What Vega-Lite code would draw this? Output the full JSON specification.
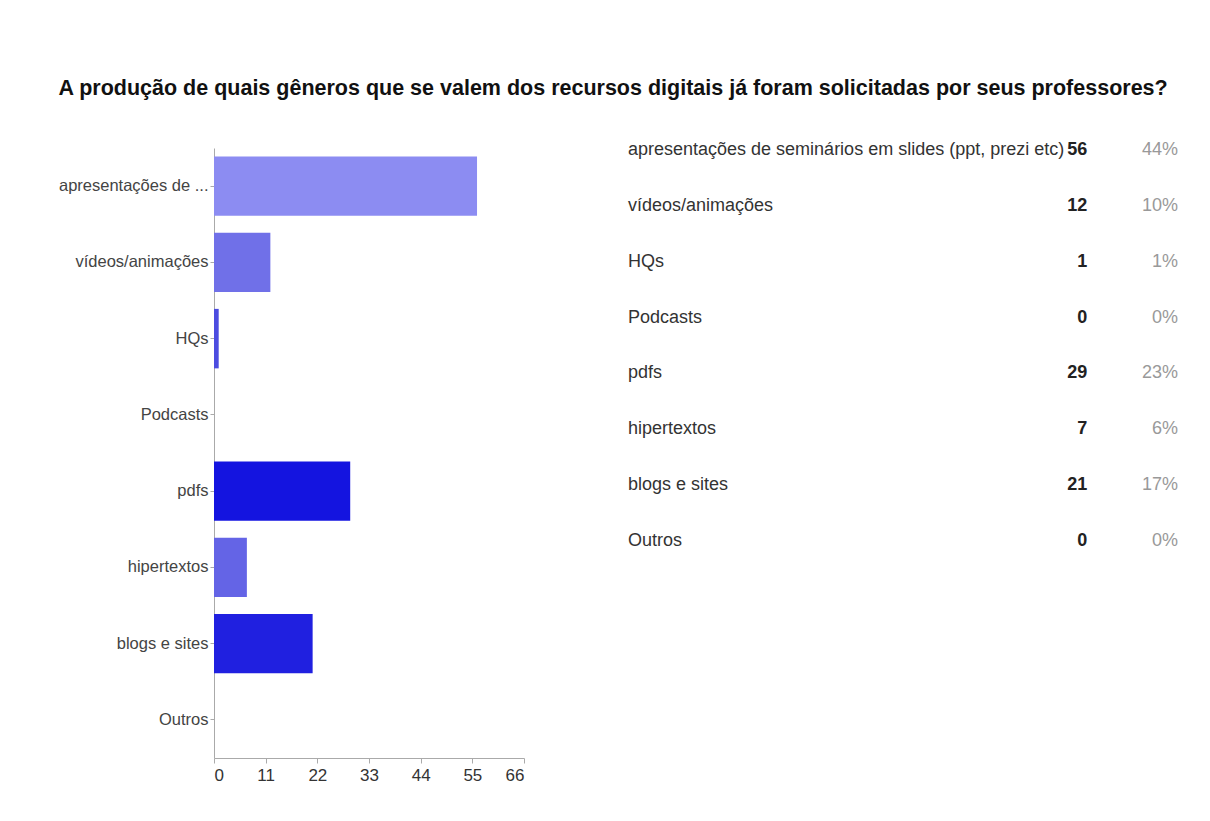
{
  "$schema": "https://vega.github.io/schema/vega-lite/v6.json",
  "background": "white",
  "padding": {"left": 58, "top": 77, "right": 5, "bottom": 5},
  "title": {
    "text": "A produção de quais gêneros que se valem dos recursos digitais já foram solicitadas por seus professores?",
    "anchor": "start",
    "font": "Liberation Sans, sans-serif",
    "fontSize": 21.5,
    "fontWeight": "bold",
    "color": "#111111",
    "offset": 23
  },
  "config": {
    "view": {"stroke": null},
    "font": "Liberation Sans, sans-serif"
  },
  "data": {
    "values": [
      {"genero": "apresentações de seminários em slides (ppt, prezi etc)", "respostas": 56, "pct": 0.44},
      {"genero": "vídeos/animações", "respostas": 12, "pct": 0.10},
      {"genero": "HQs", "respostas": 1, "pct": 0.01},
      {"genero": "Podcasts", "respostas": 0, "pct": 0},
      {"genero": "pdfs", "respostas": 29, "pct": 0.23},
      {"genero": "hipertextos", "respostas": 7, "pct": 0.06},
      {"genero": "blogs e sites", "respostas": 21, "pct": 0.17},
      {"genero": "Outros", "respostas": 0, "pct": 0}
    ]
  },
  "spacing": 103,
  "hconcat": [
    {
      "width": 310,
      "height": 636,
      "mark": {"type": "bar"},
      "encoding": {
        "y": {
          "field": "genero",
          "type": "nominal",
          "sort": null,
          "scale": {"range": [26, 636], "paddingInner": 0.22, "paddingOuter": 0.11},
          "axis": {
            "title": null,
            "labelExpr": "length(datum.label) > 25 ? slice(datum.label, 0, 17) + '...' : datum.label",
            "labelFontSize": 16.5,
            "labelColor": "#444444",
            "labelLimit": 400,
            "labelPadding": 2,
            "tickSize": 4,
            "tickColor": "#aaaaaa",
            "domainColor": "#aaaaaa"
          }
        },
        "x": {
          "field": "respostas",
          "type": "quantitative",
          "scale": {"domain": [0, 66], "nice": false},
          "axis": {
            "title": null,
            "values": [0, 11, 22, 33, 44, 55, 66],
            "grid": false,
            "labelFontSize": 17,
            "labelColor": "#333333",
            "labelPadding": 4,
            "tickSize": 5,
            "tickColor": "#aaaaaa",
            "domainColor": "#aaaaaa"
          }
        },
        "color": {
          "field": "genero",
          "type": "nominal",
          "sort": null,
          "legend": null,
          "scale": {
            "domain": ["apresentações de seminários em slides (ppt, prezi etc)", "vídeos/animações", "HQs", "Podcasts", "pdfs", "hipertextos", "blogs e sites", "Outros"],
            "range": ["#8c8cf2", "#7070e8", "#4c4ce0", "#3a3ae0", "#1414e0", "#6464e6", "#2020e0", "#5050e0"]
          }
        }
      }
    },
    {
      "width": 550,
      "height": 447,
      "encoding": {
        "y": {"field": "genero", "type": "nominal", "sort": null, "axis": null}
      },
      "layer": [
        {
          "mark": {"type": "text", "align": "left", "baseline": "middle", "fontSize": 18, "color": "#333333"},
          "encoding": {
            "x": {"datum": "rotulo", "type": "nominal", "bandPosition": 0, "axis": null,
                  "scale": {"type": "band", "domain": ["rotulo", "totais"], "paddingInner": 0, "paddingOuter": 0}},
            "text": {"field": "genero"}
          }
        },
        {
          "mark": {"type": "text", "align": "right", "baseline": "middle", "fontSize": 18, "fontWeight": "bold", "color": "#222222"},
          "encoding": {
            "x": {"datum": "totais", "type": "nominal", "bandPosition": 0.67, "axis": null},
            "text": {"field": "respostas", "type": "quantitative", "format": "d"}
          }
        },
        {
          "mark": {"type": "text", "align": "right", "baseline": "middle", "fontSize": 18, "color": "#999999"},
          "encoding": {
            "x": {"datum": "totais", "type": "nominal", "bandPosition": 1, "axis": null},
            "text": {"field": "pct", "type": "quantitative", "format": ".0%"}
          }
        }
      ]
    }
  ]
}
